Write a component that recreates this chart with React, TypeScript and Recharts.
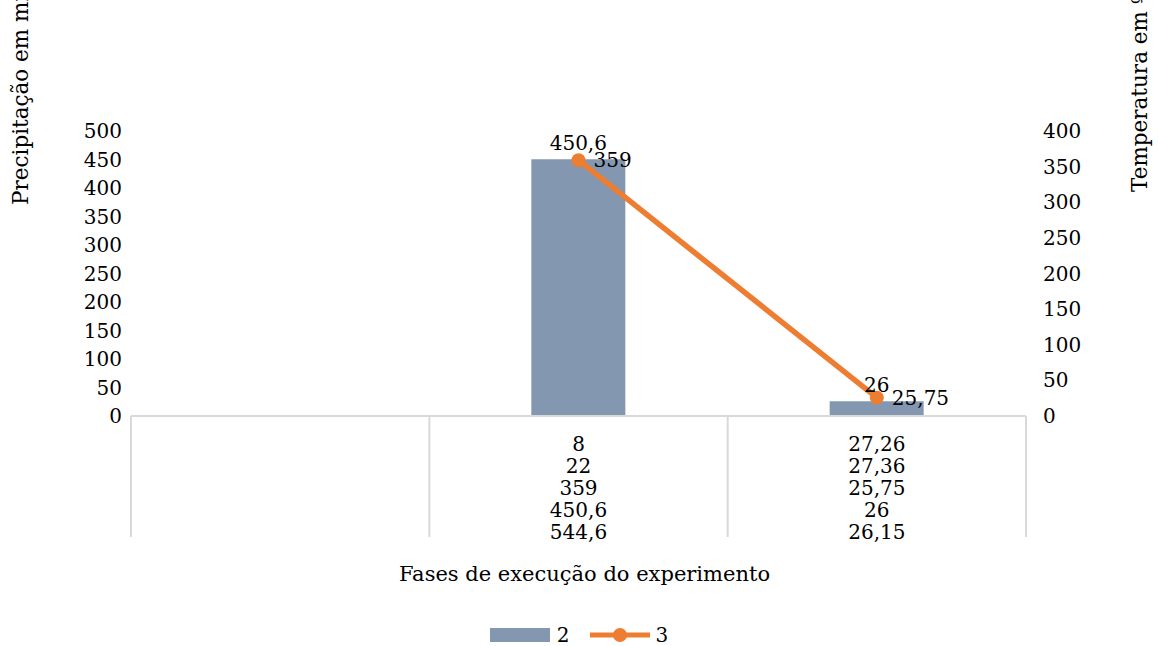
import { Bar, ComposedChart, Label, LabelList, Legend, Line, XAxis, YAxis } from "recharts";

// fases do experimento (a primeira fica vazia no gráfico original)
const categories = ["fase1", "fase2", "fase3"];
const categoryLines = [
  [],
  ["8", "22", "359", "450,6", "544,6"],
  ["27,26", "27,36", "25,75", "26", "26,15"],
];

const precipitacao = [null, 450.6, 26];
const temperatura = [null, 359, 25.75];

const precipTicks = [0, 50, 100, 150, 200, 250, 300, 350, 400, 450, 500];
const tempTicks = [0, 50, 100, 150, 200, 250, 300, 350, 400];

const data = categories.map((name, i) => ({
  name,
  p: precipitacao[i],
  t: temperatura[i],
}));

const FONT = "'DejaVu Serif', 'Liberation Serif', serif";
const BAR = "#8497b0";
const ORANGE = "#ed7d31";
const AXIS = "#d9d9d9";

const fmt = (v: any) => (v === null || v === undefined ? "" : String(v).replace(".", ","));

function CategoryTick(props: any) {
  const { x, y, payload, index, visibleTicksCount } = props;
  const half = payload && payload.offset ? payload.offset : 149;
  const lines = categoryLines[index] || [];
  return (
    <g>
      <line x1={x - half} x2={x - half} y1={y} y2={y + 121} stroke={AXIS} strokeWidth={2} />
      {index === visibleTicksCount - 1 && (
        <line x1={x + half} x2={x + half} y1={y} y2={y + 121} stroke={AXIS} strokeWidth={2} />
      )}
      <text textAnchor="middle" fontFamily={FONT} fontSize={20} fill="#000">
        {lines.map((l, i) => (
          <tspan key={i} x={x} y={y + 35 + i * 22}>
            {l}
          </tspan>
        ))}
      </text>
    </g>
  );
}

const renderLegend = () => (
  <div
    style={{
      display: "flex",
      justifyContent: "center",
      alignItems: "center",
      fontFamily: FONT,
      fontSize: 20,
      color: "#000",
      height: 26,
    }}
  >
    <svg width={60} height={14}>
      <rect width={60} height={14} fill={BAR} />
    </svg>
    <span style={{ marginLeft: 7, marginRight: 20 }}>2</span>
    <svg width={60} height={16}>
      <line x1={0} x2={60} y1={8} y2={8} stroke={ORANGE} strokeWidth={5} />
      <circle cx={30} cy={8} r={7} fill={ORANGE} />
    </svg>
    <span style={{ marginLeft: 6 }}>3</span>
  </div>
);

export default function App() {
  return (
    <div style={{ position: "absolute", top: 0, left: 0, width: 1158, height: 646, background: "#fff" }}>
      <ComposedChart
        width={1158}
        height={646}
        data={data}
        margin={{ top: 131, right: 0, left: 0, bottom: 0 }}
      >
        <XAxis
          dataKey="name"
          height={230}
          tickSize={0}
          tickMargin={0}
          tickLine={false}
          axisLine={{ stroke: AXIS, strokeWidth: 2 }}
          tick={<CategoryTick />}
          interval={0}
        >
          <Label
            value="Fases de execução do experimento"
            position="insideTop"
            offset={150}
            dx={6}
            style={{ fontFamily: FONT, fontSize: 21, fill: "#000" }}
          />
        </XAxis>
        <YAxis
          yAxisId="left"
          width={131}
          domain={[0, 500]}
          ticks={precipTicks}
          interval={0}
          axisLine={false}
          tickLine={false}
          tickSize={0}
          tickMargin={9}
          tick={{ fontFamily: FONT, fontSize: 20, fill: "#000" }}
        >
          <Label
            content={() => (
              <text
                x={28}
                y={205}
                transform="rotate(-90, 28, 205)"
                fontFamily={FONT}
                fontSize={21.5}
                fill="#000"
              >
                Precipitação em mm
              </text>
            )}
          />
        </YAxis>
        <YAxis
          yAxisId="right"
          orientation="right"
          width={132}
          domain={[0, 400]}
          ticks={tempTicks}
          interval={0}
          axisLine={false}
          tickLine={false}
          tickSize={0}
          tickMargin={17}
          tick={{ fontFamily: FONT, fontSize: 20, fill: "#000" }}
        >
          <Label
            content={() => (
              <text
                x={1147}
                y={192}
                transform="rotate(-90, 1147, 192)"
                fontFamily={FONT}
                fontSize={21.5}
                fill="#000"
              >
                Temperatura em ºC
              </text>
            )}
          />
        </YAxis>
        <Legend
          verticalAlign="middle"
          layout="horizontal"
          content={renderLegend}
          wrapperStyle={{ top: 622, left: 0, width: 1158 }}
        />
        <Bar yAxisId="left" dataKey="p" name="2" fill={BAR} barSize={94} isAnimationActive={false}>
          <LabelList
            dataKey="p"
            position="top"
            offset={9}
            formatter={fmt}
            style={{ fontFamily: FONT, fontSize: 20, fill: "#000" }}
          />
        </Bar>
        <Line
          yAxisId="right"
          dataKey="t"
          name="3"
          stroke={ORANGE}
          strokeWidth={5.5}
          dot={{ r: 7, fill: ORANGE, stroke: ORANGE, strokeWidth: 0 }}
          activeDot={false}
          isAnimationActive={false}
        >
          <LabelList
            dataKey="t"
            position="right"
            offset={15}
            formatter={fmt}
            style={{ fontFamily: FONT, fontSize: 20, fill: "#000" }}
          />
        </Line>
      </ComposedChart>
    </div>
  );
}
